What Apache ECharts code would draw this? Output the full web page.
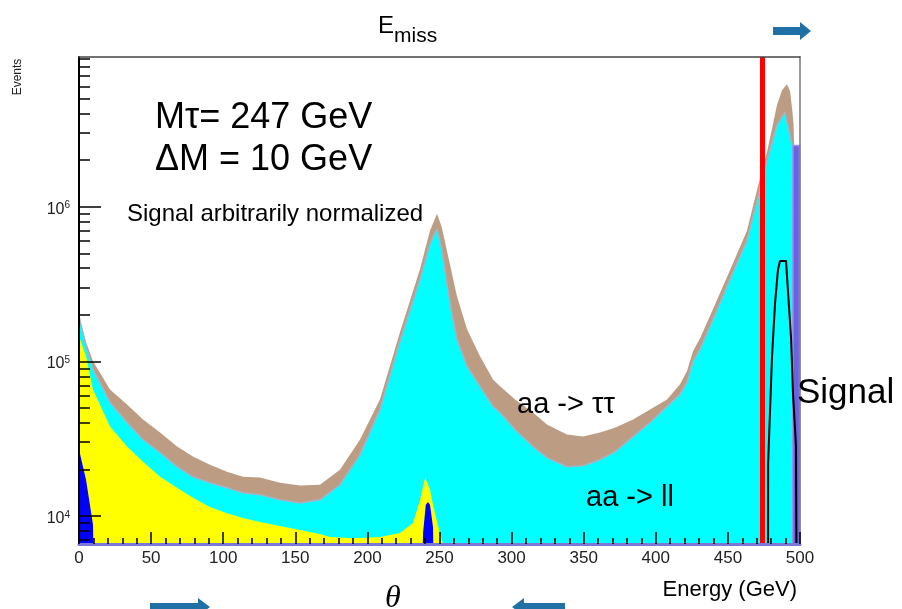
<!DOCTYPE html>
<html><head><meta charset="utf-8">
<script src="https://cdn.jsdelivr.net/npm/echarts@6/dist/echarts.min.js"></script>
<style>html,body{margin:0;padding:0;background:#fff}#c{width:902px;height:609px}</style>
</head><body><div id="c"></div>
<script>
// ---- data: [energy (GeV), events] ----
const tautauTop = [[0,1.96e5],[4.9,1.33e5],[9.7,1.0e5],[21.5,6.58e4],[33.3,5.26e4],[44.4,4.2e4],[56.2,3.46e4],[68,2.81e4],[79,2.42e4],[90.8,2.14e4],[102.6,1.93e4],[113.7,1.79e4],[125.5,1.77e4],[139.4,1.64e4],[153.3,1.57e4],[167.1,1.59e4],[181,1.99e4],[187.9,2.49e4],[194.9,3.12e4],[208.7,5.66e4],[222.6,1.54e5],[236.5,3.96e5],[243.4,6.98e5],[248.3,9.0e5],[251.5,7.41e5],[255.2,5.18e5],[262.1,2.64e5],[269.1,1.61e5],[278.1,1.08e5],[287.1,7.64e4],[292,6.89e4],[302.4,5.66e4],[314.8,4.67e4],[324.5,3.9e4],[338.4,3.36e4],[349.5,3.26e4],[361.3,3.46e4],[372,3.73e4],[384.2,4.2e4],[396,4.88e4],[407.8,5.66e4],[416.8,7.1e4],[421.6,8.61e4],[425.8,1.16e5],[430.7,1.41e5],[439.7,2.18e5],[451.5,3.9e5],[463.2,6.98e5],[472.3,1.54e6],[477.1,2.24e6],[484,4.53e6],[487.5,5.66e6],[491,6.19e6],[493.1,5.58e6],[494.5,4.33e6],[495.5,3.46e6],[497,1.13e6],[500,1.39e5]];
const llTop = [[0,1.96e5],[4.9,1.25e5],[9.7,8.87e4],[21.5,5.42e4],[33.3,4.02e4],[44.4,3.12e4],[56.2,2.57e4],[68,2.08e4],[79,1.79e4],[90.8,1.64e4],[102.6,1.52e4],[113.7,1.41e4],[125.5,1.37e4],[139.4,1.27e4],[153.3,1.21e4],[167.1,1.27e4],[181,1.59e4],[187.9,1.99e4],[194.9,2.49e4],[208.7,4.88e4],[222.6,1.35e5],[236.5,3.41e5],[243.4,5.75e5],[248.3,7.2e5],[251.5,5.33e5],[255.2,3.16e5],[258,2.18e5],[262.1,1.39e5],[269.1,9.29e4],[278.1,6.89e4],[287.1,5.11e4],[292,4.67e4],[302.4,3.62e4],[314.8,2.81e4],[324.5,2.38e4],[338.4,2.08e4],[349.5,2.11e4],[361.3,2.31e4],[372,2.61e4],[384.2,3.26e4],[396,4.02e4],[407.8,5.11e4],[416.8,6.11e4],[421.6,7.31e4],[425.8,1.0e5],[430.7,1.2e5],[439.7,1.87e5],[451.5,3.41e5],[463.2,6.02e5],[472.3,1.31e6],[477.1,1.99e6],[484,3.36e6],[489.5,4.08e6],[493.1,2.89e6],[495.1,2.38e6],[497,2.05e6],[500,1.9e6]];
const yellowTop = [[0,1.45e5],[4.9,1.08e5],[9.7,6.58e4],[21.5,3.78e4],[33.3,2.81e4],[44.4,2.24e4],[56.2,1.79e4],[68,1.52e4],[79,1.31e4],[90.8,1.14e4],[102.6,1.04e4],[113.7,9.7e3],[125.5,9.14e3],[139.4,8.61e3],[153.3,8.11e3],[167.1,7.64e3],[174.1,7.31e3],[187.9,7.2e3],[194.9,7.2e3],[208.7,7.31e3],[222.6,7.76e3],[231.6,9.0e3],[236.5,1.27e4],[240,1.77e4],[241.3,1.79e4],[243.4,1.48e4],[245.5,1.18e4],[246.9,1.04e4],[250.3,7.76e3],[252.4,6.58e3],[253,1000]];
const blueTop = [[0,2.69e4],[4.9,1.71e4],[9.7,8.75e3],[11.5,1000],[236,1000],[238.6,7.76e3],[240.5,1.18e4],[242,1.23e4],[243.4,1.18e4],[245.5,8.49e3],[247,1000],[495.5,1000],[495.8,9.0e3],[499.3,9.0e3],[499.6,1000]];
const otherBar = [[494.9,1000],[495.1,2.49e6],[499.6,2.49e6],[499.8,1000]];
const signal = [[477.8,1000],[477.9,2.18e4],[480.6,1.08e5],[482.7,2.38e5],[484.7,3.9e5],[486.1,4.46e5],[490.3,4.46e5],[491.7,2.81e5],[493.8,1.41e5],[495.1,6.29e4],[497.2,2.85e4],[497.9,1000]];
const cutEnergy = 474;
const yRange = [6580, 9.3e6];
const xRange = [0, 500];
const yMajor = [1e4, 1e5, 1e6];
const yMinor = [7e3,8e3,9e3,2e4,3e4,4e4,5e4,6e4,7e4,8e4,9e4,2e5,3e5,4e5,5e5,6e5,7e5,8e5,9e5,2e6,3e6,4e6,5e6,6e6,7e6,8e6,9e6];

const FONT = '"Liberation Sans", Arial, Helvetica, sans-serif';
const chart = echarts.init(document.getElementById('c'), null, {renderer: 'canvas'});

function areaSeries(data, fill, line, z) {
  return {
    type: 'line', data: data, showSymbol: false, silent: true, z: z,
    lineStyle: line || {width: 0},
    areaStyle: {color: fill, opacity: 1, origin: 'start'},
    xAxisIndex: 0, yAxisIndex: 0
  };
}
function txt(x, y, text, font, opts) {
  return Object.assign({type: 'text', x: x, y: y, z: 100, silent: true,
    style: Object.assign({text: text, font: font, fill: '#000', align: 'left', verticalAlign: 'middle'}, (opts && opts.style) || {})},
    (opts && opts.el) || {});
}

const option = {
  animation: false,
  backgroundColor: '#fff',
  grid: {left: 79, right: 102, top: 57, bottom: 65, containLabel: false},
  xAxis: [
    {type: 'value', min: xRange[0], max: xRange[1], interval: 50, position: 'bottom', z: 10,
     axisLine: {show: true, lineStyle: {color: '#7b78d8', width: 3}},
     axisTick: {show: true, inside: true, length: 12, lineStyle: {color: '#000', width: 1.5}},
     minorTick: {show: true, splitNumber: 5, length: 6, lineStyle: {color: '#000', width: 1.5}},
     axisLabel: {color: '#222', fontSize: 17, fontFamily: FONT, margin: 6},
     splitLine: {show: false}},
    {type: 'value', min: xRange[0], max: xRange[1], position: 'top', z: 10,
     axisLine: {show: true, lineStyle: {color: '#444', width: 1.5}},
     axisTick: {show: false}, axisLabel: {show: false}, splitLine: {show: false}}
  ],
  yAxis: [
    {type: 'log', logBase: 10, min: yRange[0], max: yRange[1], position: 'left', z: 10,
     axisLine: {show: true, lineStyle: {color: '#000', width: 2}},
     axisTick: {show: true, inside: true, length: 22, customValues: yMajor, lineStyle: {color: '#000', width: 1.5}},
     axisLabel: {customValues: yMajor, margin: 9, fontFamily: FONT, color: '#222',
       formatter: function (v) { return '{b|10}{s|' + Math.round(Math.log10(v)) + '}'; },
       rich: {b: {fontSize: 16, fontFamily: FONT, color: '#222', lineHeight: 18, padding: [5, 0, 0, 0]},
              s: {fontSize: 10, fontFamily: FONT, color: '#222', verticalAlign: 'top', lineHeight: 10, padding: [3, 0, 0, 0]}}},
     splitLine: {show: false}},
    {type: 'log', logBase: 10, min: yRange[0], max: yRange[1], position: 'left', z: 10,
     axisLine: {show: false},
     axisTick: {show: true, inside: true, length: 11, customValues: yMinor, lineStyle: {color: '#000', width: 1.5}},
     axisLabel: {show: false}, splitLine: {show: false}},
    {type: 'log', logBase: 10, min: yRange[0], max: yRange[1], position: 'right', z: 10,
     axisLine: {show: true, lineStyle: {color: '#777', width: 1.5}},
     axisTick: {show: false}, axisLabel: {show: false}, splitLine: {show: false}}
  ],
  series: [
    areaSeries(tautauTop, '#bc9d83', null, 2),
    areaSeries(llTop, '#00ffff', {color: '#a6b2c6', width: 1.5}, 3),
    areaSeries(yellowTop, '#ffff00', null, 4),
    areaSeries(blueTop, '#0000ff', null, 5),
    areaSeries(otherBar, '#6a62df', {color: '#9d92ea', width: 1.5}, 6),
    {type: 'line', data: signal, showSymbol: false, silent: true, z: 7,
     lineStyle: {color: '#000', width: 2},
     markLine: {silent: true, symbol: ['none', 'none'], label: {show: false},
       lineStyle: {color: '#ff0000', width: 5, type: 'solid'},
       data: [{xAxis: cutEnergy}]}}
  ],
  graphic: [
    txt(378, 26, 'E', '24px ' + FONT),
    txt(394, 36, 'miss', '21px ' + FONT),
    txt(18, 77, 'Events', '12px ' + FONT, {style: {fill: '#222', align: 'center'}, el: {rotation: Math.PI / 2}}),
    txt(155, 118, 'Mτ= 247 GeV', '36px ' + FONT),
    txt(155, 160, 'ΔM = 10 GeV', '36px ' + FONT),
    txt(127, 214, 'Signal arbitrarily normalized', '24px ' + FONT),
    txt(517, 405, 'aa -> ττ', '29px ' + FONT),
    txt(586, 498, 'aa -> ll', '29px ' + FONT),
    txt(797, 393, 'Signal', '35px ' + FONT),
    txt(797, 590, 'Energy (GeV)', '22px ' + FONT, {style: {align: 'right'}}),
    txt(385, 583, 'θ', 'italic 32px "Liberation Serif", "Times New Roman", serif', {style: {verticalAlign: 'top'}}),
    {type: 'polygon', z: 100, shape: {points: [[773,27],[800,27],[800,22],[811,31],[800,40],[800,35],[773,35]]}, style: {fill: '#1f70a5'}},
    {type: 'polygon', z: 100, shape: {points: [[150,603],[198,603],[198,598],[210,607],[198,616],[198,611],[150,611]]}, style: {fill: '#1f70a5'}},
    {type: 'polygon', z: 100, shape: {points: [[565,603],[524,603],[524,598],[512,607],[524,616],[524,611],[565,611]]}, style: {fill: '#1f70a5'}}
  ]
};
chart.setOption(option);
</script>
</body></html>
